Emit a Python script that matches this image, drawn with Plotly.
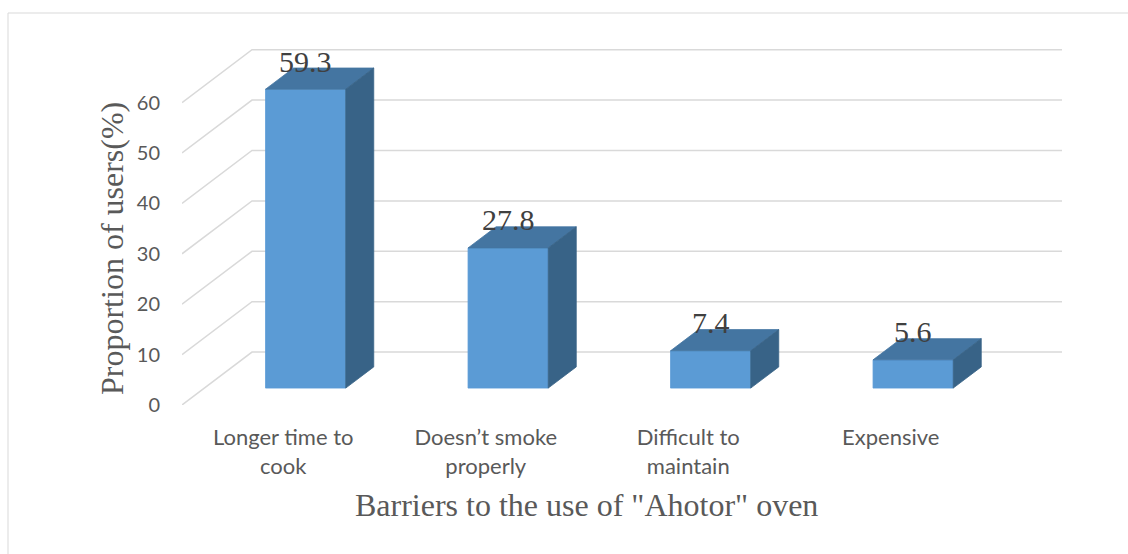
import plotly.graph_objects as go

# Barriers to the use of the "Ahotor" oven
categories = ["Longer time to<br>cook", "Doesn’t smoke<br>properly", "Difficult to<br>maintain", "Expensive"]
values = [59.3, 27.8, 7.4, 5.6]
y_ticks = [0, 10, 20, 30, 40, 50, 60]

# Oblique projection of the depth axis (in x-category units and y-value units)
DX = 0.3457
DY = 10.5
BAR_HALF = 0.198
D0, D1 = 0.32, 0.72   # front / back depth of each bar

FRONT = "#5B9BD5"
TOP = "#4475A1"
SIDE = "#386387"
GRID = "#D9D9D9"

W, H = 1128, 554
ML, MR, MT, MB = 182, 66, 40, 149
x_lo = -0.5
x_hi = x_lo + (W - ML - MR) / 202.5
y_hi = (H - MT - MB) / 5.04


def proj(c, v, d):
    return c + d * DX, v + d * DY


fig = go.Figure()

# Left-wall diagonals and back-wall gridlines
for t in y_ticks:
    xa, ya = proj(x_lo, t, 0)
    xb, yb = proj(x_lo, t, 1)
    xc, yc = proj(3.5, t, 1)
    fig.add_trace(go.Scatter(x=[xa, xb, xc], y=[ya, yb, yc], mode="lines",
                             line=dict(color=GRID, width=1.5),
                             hoverinfo="skip", showlegend=False))

# Bars as three visible faces
for i, v in enumerate(values):
    l, r = i - BAR_HALF, i + BAR_HALF
    faces = [
        ([proj(l, 0, D0), proj(r, 0, D0), proj(r, v, D0), proj(l, v, D0)], FRONT),
        ([proj(l, v, D0), proj(r, v, D0), proj(r, v, D1), proj(l, v, D1)], TOP),
        ([proj(r, 0, D0), proj(r, 0, D1), proj(r, v, D1), proj(r, v, D0)], SIDE),
    ]
    for pts, col in faces:
        xs = [p[0] for p in pts] + [pts[0][0]]
        ys = [p[1] for p in pts] + [pts[0][1]]
        fig.add_trace(go.Scatter(x=xs, y=ys, mode="lines", fill="toself",
                                 fillcolor=col, line=dict(color=col, width=0.8),
                                 hoverinfo="skip", showlegend=False))
    lx, ly = proj(i, v, D0)
    fig.add_annotation(x=lx, y=ly, text=f"{v}", showarrow=False, yshift=28,
                       yanchor="middle",
                       font=dict(family="Liberation Serif", size=30, color="#404040"))

# Axis titles
fig.add_annotation(xref="paper", yref="paper",
                   x=(586 - ML) / (W - ML - MR), y=(H - MB - 505) / (H - MT - MB),
                   text='Barriers to the use of "Ahotor" oven', showarrow=False,
                   xanchor="center", yanchor="middle",
                   font=dict(family="Liberation Serif", size=32, color="#595959"))
fig.add_annotation(xref="paper", yref="paper",
                   x=(112 - ML) / (W - ML - MR), y=(H - MB - 249) / (H - MT - MB),
                   text="Proportion of users(%)", showarrow=False, textangle=-90,
                   xanchor="center", yanchor="middle",
                   font=dict(family="Liberation Serif", size=32, color="#595959"))

# Chart border
pw, ph = W - ML - MR, H - MT - MB
fig.add_shape(type="rect", xref="paper", yref="paper",
              x0=(8 - ML) / pw, x1=(W + 20 - ML) / pw,
              y0=(H - MB - (H + 20)) / ph, y1=(H - MB - 13) / ph,
              line=dict(color=GRID, width=1), fillcolor="rgba(0,0,0,0)", layer="below")

fig.update_layout(
    width=W, height=H,
    margin=dict(l=ML, r=MR, t=MT, b=MB),
    paper_bgcolor="white", plot_bgcolor="white",
    xaxis=dict(range=[x_lo, x_hi], tickvals=list(range(len(categories))),
               ticktext=categories, showgrid=False, zeroline=False, showline=False,
               ticks="", ticklabelstandoff=17,
               tickfont=dict(family="Lato", size=22, color="#595959")),
    yaxis=dict(range=[0, y_hi], tickvals=y_ticks, showgrid=False, zeroline=False,
               showline=False, ticks="", ticklabelstandoff=21,
               tickfont=dict(family="Lato", size=20, color="#595959")),
)

fig.write_html("out.html")
